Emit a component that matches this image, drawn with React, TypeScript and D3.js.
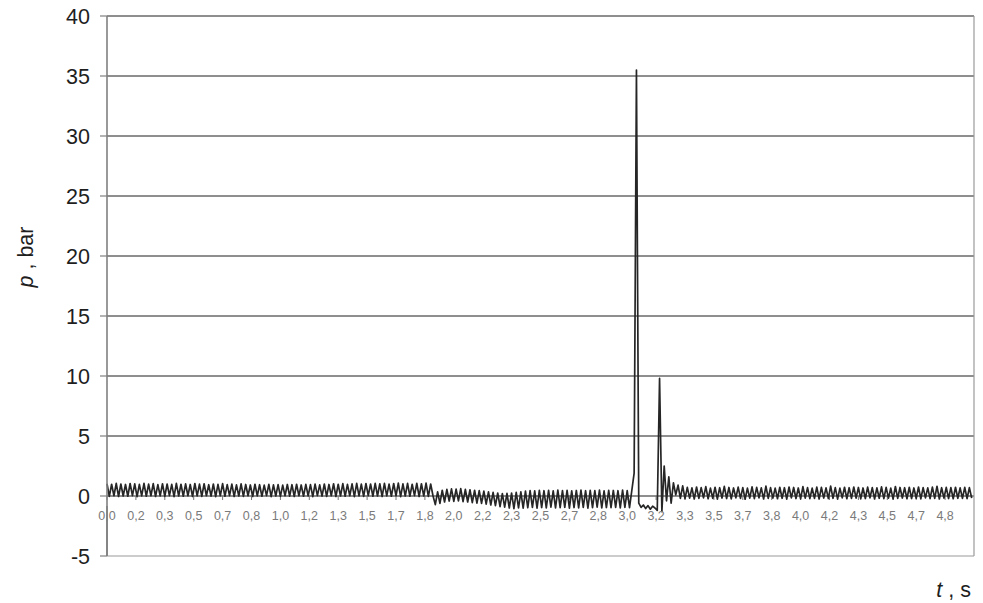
import React from "react";
import * as d3 from "d3";

// Pressure trace p(t), sampled every 1/75 s, split into the phases of the run.
const SAMPLE_STEP = 1 / 75;

// steady running, 0 – 1.88 s
const steadyRun = [
  1.02, -0.03, 0.98, 0.02, 1.05, -0.04, 1.0, 0.0, 0.96, -0.02, 1.04, 0.03, 1.01, -0.05, 0.97, 0.01, 1.06, -0.02, 0.99, 0.02,
  1.03, -0.04, 0.95, 0.01, 1.02, -0.03, 1.0, 0.03, 0.97, -0.05, 1.05, 0.0, 0.98, -0.02, 1.01, 0.02, 0.96, -0.04, 1.04, 0.01,
  0.99, -0.03, 1.02, 0.02, 0.94, -0.01, 1.0, -0.05, 0.97, 0.02, 1.03, -0.02, 0.95, 0.03, 0.99, -0.04, 0.93, 0.0, 1.01, -0.03,
  0.96, 0.02, 0.92, -0.04, 0.98, 0.01, 0.94, -0.02, 0.9, 0.03, 0.97, -0.05, 0.93, 0.0, 0.95, -0.03, 0.91, 0.02, 0.96, -0.01,
  0.94, -0.04, 0.98, 0.02, 0.92, -0.02, 0.97, 0.01, 0.95, -0.05, 0.99, 0.03, 0.93, -0.01, 1.0, -0.03, 0.96, 0.02, 1.02, -0.04,
  0.98, 0.0, 1.03, -0.02, 0.97, 0.02, 1.01, -0.05, 1.05, 0.01, 0.99, -0.03, 1.04, 0.03, 1.0, -0.02, 1.06, 0.0, 1.02, -0.04,
  1.05, 0.01, 0.99, -0.02, 1.04, 0.02, 1.07, -0.05, 1.01, 0.0, 1.05, -0.02, 0.98, 0.03, 1.06, -0.04, 1.02, 0.0, 1.08, -0.03,
  1.0, 0.02,
];

// valve switch, 1.89 – 2.19 s
const switchOver = [
  -0.72, 0.35, -0.62, 0.48, -0.5, 0.55, -0.42, 0.6, -0.45, 0.58, -0.4, 0.62, -0.47, 0.55, -0.5, 0.52, -0.55, 0.48, -0.6, 0.45,
  -0.62, 0.4, -0.68,
];

// pressure sag, 2.2 – 2.4 s
const sag = [0.35, -0.75, 0.3, -0.8, 0.25, -0.88, 0.2, -0.92, 0.22, -1.0, 0.25, -1.05, 0.3, -1.0, 0.35, -1.02];

// low-pressure running, 2.41 – 3.03 s
const lowRun = [
  0.4, -0.98, 0.45, -0.95, 0.42, -1.02, 0.48, -0.96, 0.44, -0.99, 0.47, -0.93, 0.43, -1.0, 0.5, -0.97, 0.45, -0.94, 0.48, -1.01,
  0.42, -0.96, 0.46, -0.99, 0.49, -0.95, 0.44, -1.02, 0.47, -0.97, 0.45, -0.93, 0.5, -1.0, 0.43, -0.96, 0.48, -0.98, 0.46, -0.95,
  0.44, -1.0, 0.49, -0.94, 0.45, -0.97, 0.47,
];

// pressure surge and its rebound, 3.04 – 3.32 s
const surge = [
  1.9, 35.5, -0.6, -0.95, -0.75, -1.05, -0.8, -1.1, -0.85, -1.0, -1.2, 9.8, -1.3, 2.5, -0.4, 1.6, -0.6, 1.1, 0.1, 0.9,
  -0.2, 0.85,
];

// settled running, 3.33 – 5.0 s
const settled = [
  -0.22, 0.72, -0.18, 0.68, -0.25, 0.75, -0.2, 0.7, -0.15, 0.78, -0.23, 0.66, -0.19, 0.73, -0.26, 0.69, -0.17, 0.8, -0.21, 0.71,
  -0.24, 0.67, -0.16, 0.74, -0.2, 0.7, -0.27, 0.65, -0.18, 0.76, -0.22, 0.72, -0.15, 0.68, -0.25, 0.83, -0.2, 0.7, -0.18, 0.66,
  -0.23, 0.73, -0.19, 0.69, -0.26, 0.75, -0.16, 0.71, -0.21, 0.67, -0.24, 0.78, -0.18, 0.7, -0.22, 0.65, -0.2, 0.74, -0.25, 0.72,
  -0.17, 0.68, -0.21, 0.82, -0.19, 0.7, -0.26, 0.66, -0.15, 0.73, -0.23, 0.69, -0.2, 0.75, -0.18, 0.71, -0.24, 0.67, -0.21, 0.74,
  -0.16, 0.7, -0.25, 0.68, -0.19, 0.76, -0.22, 0.72, -0.18, 0.66, -0.26, 0.79, -0.2, 0.71, -0.17, 0.69, -0.23, 0.73, -0.21, 0.67,
  -0.19, 0.75, -0.24, 0.7, -0.16, 0.68, -0.22, 0.74, -0.2, 0.81, -0.25, 0.69, -0.18, 0.72, -0.21, 0.7, -0.23, 0.73, -0.19, 0.68,
  -0.2, 0.72, -0.22, 0.7, -0.18,
];

const yTicks = [-5, 0, 5, 10, 15, 20, 25, 30, 35, 40];
const xTickLabels = [
  "0,0", "0,2", "0,3", "0,5", "0,7", "0,8", "1,0", "1,2", "1,3", "1,5",
  "1,7", "1,8", "2,0", "2,2", "2,3", "2,5", "2,7", "2,8", "3,0", "3,2",
  "3,3", "3,5", "3,7", "3,8", "4,0", "4,2", "4,3", "4,5", "4,7", "4,8",
];
const X_LABEL_STEP = 1 / 6;

const W = 983;
const H = 603;
const FONT = "'Liberation Sans', Arial, Helvetica, sans-serif";

export default function App() {
  const pressure = [...steadyRun, ...switchOver, ...sag, ...lowRun, ...surge, ...settled];
  const points: [number, number][] = pressure.map((p, i) => [i * SAMPLE_STEP, p]);

  const x = d3.scaleLinear().domain([0, 5]).range([107, 974]);
  const y = d3.scaleLinear().domain([-5, 40]).range([556, 16]);

  const line = d3
    .line<[number, number]>()
    .x((d) => x(d[0]))
    .y((d) => y(d[1]));

  const left = x(0);
  const right = x(5);
  const top = y(40);
  const bottom = y(-5);

  return (
    <svg
      width={W}
      height={H}
      style={{ position: "absolute", left: 0, top: 0, background: "#fff" }}
      fontFamily={FONT}
    >
      <rect x={0} y={0} width={W} height={H} fill="#fff" />

      {/* horizontal gridlines */}
      {yTicks
        .filter((v) => v > -5)
        .map((v) => (
          <line key={"g" + v} x1={left} x2={right} y1={y(v)} y2={y(v)} stroke="#1e1e1e" strokeWidth={1} />
        ))}

      {/* plot frame */}
      <line x1={right} x2={right} y1={top} y2={bottom} stroke="#9a9a9a" strokeWidth={1.2} />
      <line x1={left} x2={right} y1={bottom} y2={bottom} stroke="#9a9a9a" strokeWidth={1.2} />

      {/* category ticks on the zero line */}
      {xTickLabels.map((_, i) => (
        <line
          key={"xt" + i}
          x1={x(i * X_LABEL_STEP)}
          x2={x(i * X_LABEL_STEP)}
          y1={y(0)}
          y2={y(0) + 4}
          stroke="#777"
          strokeWidth={1}
        />
      ))}

      {/* pressure trace */}
      <path d={line(points) ?? ""} fill="none" stroke="#262626" strokeWidth={1.7} strokeLinejoin="round" />

      {/* y axis */}
      <line x1={left} x2={left} y1={top} y2={bottom} stroke="#808080" strokeWidth={1.6} />
      {yTicks.map((v) => (
        <g key={"yt" + v}>
          <line x1={left - 7} x2={left} y1={y(v)} y2={y(v)} stroke="#808080" strokeWidth={1.2} />
          <text
            x={90}
            y={y(v)}
            dy="0.36em"
            textAnchor="end"
            fontSize={21.5}
            fill="#1e1e1e"
          >
            {v}
          </text>
        </g>
      ))}

      {/* x category labels */}
      {xTickLabels.map((lab, i) => (
        <text
          key={"xl" + i}
          x={x(i * X_LABEL_STEP)}
          y={520}
          textAnchor="middle"
          fontSize={12.5}
          fill="#7a7a7a"
        >
          {lab}
        </text>
      ))}
      {/* y axis line passes over the first label */}
      <line x1={left} x2={left} y1={y(-5) - 50} y2={bottom} stroke="#808080" strokeWidth={1.6} />

      {/* axis titles */}
      <text transform="translate(33,257) rotate(-90)" textAnchor="middle" fontSize={21.5} fill="#1e1e1e">
        <tspan fontStyle="italic">p</tspan>
        <tspan> , bar</tspan>
      </text>
      <text x={971} y={597} textAnchor="end" fontSize={21.5} fill="#1e1e1e">
        <tspan fontStyle="italic">t</tspan>
        <tspan> , s</tspan>
      </text>
    </svg>
  );
}
